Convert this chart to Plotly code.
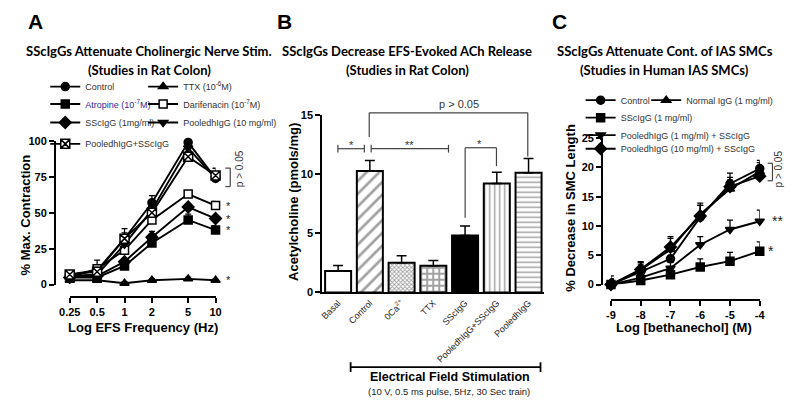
import math
import plotly.graph_objects as go

# ---------------- data ----------------
# Panel A
freq = [0.25, 0.5, 1, 2, 5, 10]
freq_labels = ["0.25", "0.5", "1", "2", "5", "10"]
a_control = [7, 10, 32, 57, 99, 74]
a_control_err = [2, 3, 4, 5, 3, 3]
a_atropine = [5, 5, 13, 29, 45, 38]
a_atropine_err = [1, 2, 2, 2, 4, 3]
a_sscigg = [5, 6, 16, 33, 54, 46]
a_sscigg_err = [1, 2, 2, 4, 2, 2]
a_darif = [5, 11, 24, 45, 63, 55]
a_darif_err = [2, 6, 3, 3, 2, 3]
a_ttx = [3, 3, 1, 3, 4, 3]
a_ttx_err = [1, 1, 1, 1, 1, 1]
a_pooled = [6, 7, 28, 52, 95, 74]
a_pooled_err = [2, 2, 4, 4, 3, 4]
a_pooled_ssc = [7, 9, 32, 50, 89, 76]
a_pooled_ssc_err = [2, 3, 7, 5, 3, 5]

# Panel B
b_cats = ["Basal", "Control", "0Ca<sup>2+</sup>", "TTX", "SScIgG",
          "PooledhIgG+SScIgG", "PooledhIgG"]
b_vals = [1.8, 10.25, 2.5, 2.25, 4.8, 9.2, 10.1]
b_errs = [0.46, 0.88, 0.6, 0.45, 0.8, 0.95, 1.2]

# Panel C
conc = [-9, -8, -7, -6, -5, -4]
c_control = [0, 2.2, 4.4, 11.5, 17.2, 19.8]
c_control_err = [1.5, 1.3, 1.8, 2.0, 1.8, 1.4]
c_normal = [0, 2.5, 6.0, 12.0, 16.3, 19.3]
c_normal_err = [1.0, 1.4, 2.2, 1.9, 1.5, 1.5]
c_sscigg = [0, 0.7, 1.7, 3.0, 4.0, 5.7]
c_sscigg_err = [0.8, 0.6, 0.8, 1.4, 1.5, 1.6]
c_pool1 = [0, 1.2, 2.8, 6.8, 9.4, 10.8]
c_pool1_err = [0.8, 0.8, 1.0, 1.4, 1.6, 1.9]
c_pool10 = [0, 2.6, 6.4, 11.7, 16.7, 18.5]
c_pool10_err = [1.0, 1.2, 1.5, 1.8, 1.6, 1.5]

# ---------------- layout helpers ----------------
W, H = 800, 411
ARIAL = "Liberation Sans, Arial, sans-serif"
TITLEF = "Lato, Open Sans, sans-serif"


def px(x):
    return x / W


def py(y):
    return 1 - y / H


fig = go.Figure()
legends = {}
LEG_OFF = 29
LEG_DY = 4


def add_legend(lid, mx, my):
    legends[lid] = dict(
        x=px(mx - LEG_OFF), y=py(my - LEG_DY), xanchor="left", yanchor="middle",
        bgcolor="rgba(0,0,0,0)", borderwidth=0, orientation="h",
        font=dict(family=ARIAL, size=9, color="#333333"), itemwidth=30,
    )


def series(xa, ya, x, y, err, name, symbol, lid, mx, my, fill="black",
           size=8):
    fig.add_trace(go.Scatter(
        x=x, y=y, name=name, xaxis=xa, yaxis=ya, mode="lines+markers",
        line=dict(color="black", width=1.9),
        marker=dict(symbol=symbol, size=size, color=fill,
                    line=dict(color="black", width=1.5)),
        error_y=dict(type="data", array=err, arrayminus=[0] * len(err),
                     symmetric=False, color="black", thickness=1.3, width=3),
        cliponaxis=False, legend=lid, hoverinfo="skip",
    ))
    add_legend(lid, mx, my)


# Panel A series
series("x", "y", freq, a_control, a_control_err, "Control", "circle", "legend", 64, 87)
series("x", "y", freq, a_ttx, a_ttx_err, "TTX (10<sup>-6</sup>M)", "triangle-up", "legend2", 164, 87)
series("x", "y", freq, a_atropine, a_atropine_err,
       "<span style='color:#2b2b9c'>Atropine (10<sup>-7</sup>M)</span>", "square", "legend3", 64, 105)
series("x", "y", freq, a_darif, a_darif_err, "Darifenacin (10<sup>-7</sup>M)", "square", "legend4", 164, 105,
       fill="white")
series("x", "y", freq, a_sscigg, a_sscigg_err, "SScIgG (1mg/ml)", "diamond", "legend5", 64, 124, size=9)
series("x", "y", freq, a_pooled, a_pooled_err, "PooledhIgG (10 mg/ml)", "triangle-down", "legend6", 164, 124)
series("x", "y", freq, a_pooled_ssc, a_pooled_ssc_err, "PooledhIgG+SScIgG", "square-x", "legend7", 64, 146,
       fill="white", size=9)

# Panel B bars
b_shapes = ["", "/", "x", "+", "", "|", "-"]
b_psizes = [8, 9, 3, 6, 8, 5, 5]
b_solid = [0.3, 0.3, 0.5, 0.55, 0.3, 0.3, 0.3]
b_colors = ["white", "white", "white", "white", "black", "white", "white"]
fig.add_trace(go.Bar(
    x=b_cats, y=b_vals, xaxis="x2", yaxis="y2", width=0.82,
    marker=dict(color=b_colors, line=dict(color="black", width=2),
                pattern=dict(shape=b_shapes, size=b_psizes, solidity=b_solid,
                             fgcolor="black")),
    error_y=dict(type="data", array=b_errs, arrayminus=[0] * len(b_errs),
                 symmetric=False, color="black", thickness=1.5, width=5),
    showlegend=False, hoverinfo="skip",
))

# Panel C series
series("x3", "y3", conc, c_control, c_control_err, "Control", "circle", "legend8", 611, 101)
series("x3", "y3", conc, c_normal, c_normal_err, "Normal IgG (1 mg/ml)", "triangle-up", "legend9", 678, 101)
series("x3", "y3", conc, c_sscigg, c_sscigg_err, "SScIgG (1 mg/ml)", "square", "legend10", 611, 119)
series("x3", "y3", conc, c_pool1, c_pool1_err, "PooledhIgG (1 mg/ml) + SScIgG", "triangle-down", "legend11",
       611, 137)
series("x3", "y3", conc, c_pool10, c_pool10_err, "PooledhIgG (10 mg/ml) + SScIgG", "diamond", "legend12",
       611, 151, size=9)

axis_common = dict(showline=True, linecolor="black", linewidth=2, ticks="outside",
                   ticklen=5, tickwidth=2, tickcolor="black", showgrid=False,
                   zeroline=False, tickfont=dict(family=ARIAL, size=11, color="black", weight="bold"))

layout = dict(
    width=W, height=H, margin=dict(l=0, r=0, t=0, b=0),
    paper_bgcolor="white", plot_bgcolor="white", showlegend=True, hovermode=False,
    xaxis=dict(type="log", range=[math.log10(0.25), 1], domain=[px(60), px(209)],
               anchor="free", position=py(300), tickvals=freq, ticktext=freq_labels,
               **axis_common),
    yaxis=dict(range=[0, 100], domain=[py(287), py(139)], anchor="free", position=px(45),
               tickvals=[0, 25, 50, 75, 100], **axis_common),
    xaxis2=dict(type="category", range=[-0.5, 6.5], domain=[px(318), px(545)], anchor="y2",
                showline=True, linecolor="black", linewidth=2, ticks="", showgrid=False,
                tickangle=-45, tickfont=dict(family=ARIAL, size=9, color="#222222")),
    yaxis2=dict(range=[0, 15], domain=[py(295), py(112)], anchor="x2",
                tickvals=[0, 5, 10, 15], **axis_common),
    xaxis3=dict(range=[-9, -4], domain=[px(613), px(765)], anchor="free", position=py(303),
                tickvals=conc, ticktext=[str(c) for c in conc], **axis_common),
    yaxis3=dict(range=[0, 25], domain=[py(287), py(136)], anchor="free", position=px(604),
                tickvals=[0, 5, 10, 15, 20, 25], **axis_common),
)
layout.update(legends)
fig.update_layout(**layout)

ann = []


def text(x, y, s, size=10, bold=False, family=ARIAL, angle=0, color="black",
         xref="paper", yref="paper", xanchor="center", yanchor="middle"):
    ann.append(dict(x=x, y=y, xref=xref, yref=yref, text=s, showarrow=False,
                    font=dict(family=family, size=size, color=color,
                              weight="bold" if bold else "normal"),
                    textangle=angle, xanchor=xanchor, yanchor=yanchor))


# panel letters
text(px(25), py(16), "A", size=21, bold=True)
text(px(279), py(16), "B", size=21, bold=True)
text(px(560), py(16), "C", size=21, bold=True)

# titles
TS = 13
text(px(141), py(46), "SScIgGs Attenuate Cholinergic Nerve Stim.", size=TS, bold=True, family=TITLEF)
text(px(141), py(66), "(Studies in Rat Colon)", size=TS, bold=True, family=TITLEF)
text(px(405), py(46), "SScIgGs Decrease EFS-Evoked ACh Release", size=TS, bold=True, family=TITLEF)
text(px(405), py(66), "(Studies in Rat Colon)", size=TS, bold=True, family=TITLEF)
text(px(668), py(46), "SScIgGs Attenuate Cont. of IAS SMCs", size=TS, bold=True, family=TITLEF)
text(px(668), py(66), "(Studies in Human IAS SMCs)", size=TS, bold=True, family=TITLEF)

# axis titles
text(px(15), py(215), "% Max. Contraction", size=13, bold=True, angle=-90)
text(px(135), py(331), "Log EFS Frequency (Hz)", size=13, bold=True)
text(px(288), py(202), "Acetylcholine (pmols/mg)", size=13, bold=True, angle=-90)
text(px(572), py(208), "% Decrease in SMC Length", size=13, bold=True, angle=-90)
text(px(688), py(331), "Log [bethanechol] (M)", size=13, bold=True)

# panel A significance
text(px(233), py(168), "p > 0.05", size=10, angle=-90, color="#333333")
for v in [a_darif[-1], a_sscigg[-1], a_atropine[-1], a_ttx[-1]]:
    text(px(222), v, "*", size=11, yref="y", color="#222222")

# panel C significance
text(px(784), py(168), "p > 0.05", size=10, angle=-90, color="#333333")
text(px(783), c_pool1[-1], "**", size=14, yref="y3", color="#222222")
text(px(777), c_sscigg[-1], "*", size=14, yref="y3", color="#222222")

# panel B significance
text(px(458), py(101), "p > 0.05", size=11, color="#333333")
text(px(348), py(143), "*", size=11, color="#333333")
text(px(407), py(143), "**", size=11, color="#333333")
text(px(479), py(142), "*", size=11, color="#333333")
text(px(449), py(382), "Electrical Field Stimulation", size=12.5, bold=True)
text(px(447), py(397), "(10 V, 0.5 ms pulse, 5Hz, 30 Sec train)", size=9.5, color="#222222")

shapes = []


def seg(x0, y0, x1, y1, w=1.2, color="#444444"):
    shapes.append(dict(type="line", xref="paper", yref="paper", x0=px(x0), y0=py(y0),
                       x1=px(x1), y1=py(y1), line=dict(color=color, width=w)))


# A bracket
seg(224, 167, 224, 186)
seg(219, 167, 224, 167)
seg(219, 186, 224, 186)
# C bracket
seg(778, 162, 778, 180)
seg(773, 162, 778, 162)
seg(773, 180, 778, 180)
# B brackets
seg(366, 110, 528, 110)
seg(366, 110, 366, 135)
seg(528, 110, 528, 155)
seg(334, 147, 361, 147)
seg(334, 143, 334, 151)
seg(361, 143, 361, 151)
seg(368, 147, 447, 147)
seg(368, 143, 368, 151)
seg(447, 143, 447, 151)
seg(464, 146, 496, 146)
seg(464, 146, 464, 218)
seg(496, 146, 496, 165)
# B bottom EFS line
seg(347, 372, 541, 372, w=1.8, color="black")
seg(347, 367, 347, 377, w=1.8, color="black")
seg(541, 367, 541, 377, w=1.8, color="black")

fig.update_layout(annotations=ann, shapes=shapes)
fig.write_html("out.html", config={"displayModeBar": False, "staticPlot": True},
               post_script="document.body.style.margin='0px';")
